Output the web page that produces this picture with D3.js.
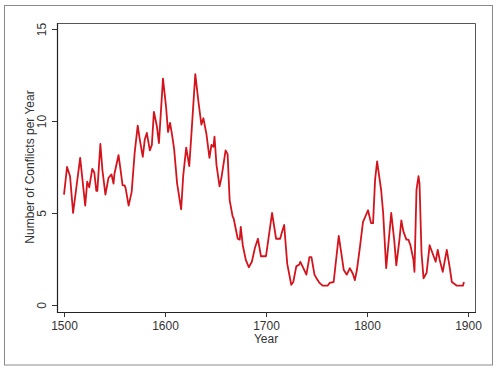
<!DOCTYPE html>
<html>
<head>
<meta charset="utf-8">
<script src="https://cdn.jsdelivr.net/npm/d3@7"></script>
<style>
  body { margin: 0; background: #fff; }
  svg text { font-family: "Liberation Sans", Arial, sans-serif; fill: #333; }
</style>
</head>
<body>
<div id="chart"></div>
<script>

// conflicts per year (smoothed)
var years = [1500,1503,1506,1509,1516,1521,1523,1525,1528,1530,1532,1533,1536,1538,1541,1544,1547,1549,1550,1554,
    1556,1558,1560,1561,1564,1567,1570,1573,1575,1578,1580,1582,1585,1587,1589,1592,1594,1598,1601,1603,
    1605,1607,1609,1612,1616,1618,1621,1624,1626,1630,1633,1636,1638,1641,1644,1646,1648,1649,1651,1654,
    1656,1660,1662,1664,1667,1668,1672,1674,1675,1677,1680,1683,1686,1689,1692,1695,1700,1706,1710,1714,
    1716,1718,1721,1725,1727,1730,1733,1734,1737,1740,1743,1745,1748,1750,1753,1756,1761,1763,1767,1772,
    1775,1777,1780,1783,1786,1788,1790,1793,1796,1801,1804,1806,1808,1810,1814,1816,1819,1824,1827,1829,
    1832,1834,1836,1839,1841,1843,1846,1847,1849,1851,1852,1854,1856,1859,1862,1865,1868,1870,1872,1875,
    1879,1882,1884,1889,1895,1896];
var conflicts = [6.0,7.5,7.0,5.0,8.0,5.4,6.7,6.4,7.4,7.2,6.2,6.2,8.75,7.35,6.0,6.9,7.1,6.6,7.15,8.15,
    7.35,6.5,6.5,6.35,5.4,6.15,8.3,9.75,9.0,8.05,9.0,9.35,8.4,8.7,10.5,9.7,8.8,12.3,10.8,9.4,
    9.9,9.25,8.5,6.6,5.2,7.0,8.55,7.55,9.15,12.55,11.1,9.8,10.15,9.3,8.0,8.7,8.6,9.15,7.6,6.45,
    6.95,8.4,8.2,5.7,4.8,4.7,3.6,3.55,4.25,3.25,2.45,2.05,2.35,3.1,3.6,2.65,2.65,5.0,3.6,3.6,
    4.0,4.35,2.25,1.1,1.25,2.1,2.2,2.35,2.0,1.65,2.6,2.6,1.65,1.45,1.2,1.05,1.05,1.2,1.25,3.75,
    2.65,1.9,1.65,2.0,1.7,1.35,1.9,3.15,4.5,5.15,4.45,4.45,6.8,7.8,6.25,5.0,2.0,5.0,3.5,2.15,
    3.5,4.6,4.0,3.55,3.55,3.25,2.45,1.8,6.25,7.0,6.6,2.8,1.45,1.75,3.25,2.8,2.35,3.0,2.45,1.8,
    3.0,2.0,1.25,1.05,1.05,1.25];

var xTicks = [1500, 1600, 1700, 1800, 1900];
var yTicks = [0, 5, 10, 15];

var width = 500, height = 370;
var plot = { left: 57, top: 23, right: 475, bottom: 312 };

var svg = d3.select("#chart").append("svg")
    .attr("width", width)
    .attr("height", height);

// outer frame
svg.append("rect")
    .attr("x", 4.5).attr("y", 5.5)
    .attr("width", 488).attr("height", 359.5)
    .attr("fill", "none").attr("stroke", "#8a8a8a");

var x = d3.scaleLinear().domain([1500, 1900]).range([64, 468]);
var y = d3.scaleLinear().domain([0, 15]).range([305, 29]);

// plot box (top + right)
svg.append("path")
    .attr("d", "M" + plot.left + "," + (plot.top + 0.5) + "H" + (plot.right + 0.5) + "V" + plot.bottom)
    .attr("fill", "none").attr("stroke", "#555");

var xAxis = svg.append("g")
    .attr("transform", "translate(0," + plot.bottom + ")")
    .call(d3.axisBottom(x).tickValues(xTicks).tickFormat(d3.format("d")).tickSize(5).tickSizeOuter(0).tickPadding(4));
xAxis.select(".domain").attr("d", "M" + plot.left + ",0.5H" + (plot.right + 1));

var yAxis = svg.append("g")
    .attr("transform", "translate(" + plot.left + ",0)")
    .call(d3.axisLeft(y).tickValues(yTicks).tickSize(5).tickSizeOuter(0).tickPadding(3));
yAxis.select(".domain").attr("d", "M0.5," + plot.top + "V" + (plot.bottom + 1));

svg.selectAll(".domain").attr("stroke", "#222").attr("stroke-width", 1.2);
svg.selectAll(".tick line").attr("stroke", "#333");
svg.selectAll(".tick text").attr("font-size", 12).style("fill", "#333");

// vertical y tick labels
yAxis.selectAll(".tick text")
    .attr("text-anchor", "middle")
    .attr("x", null).attr("dy", null)
    .attr("transform", "translate(-11,0) rotate(-90)")
    .attr("y", 0);

svg.append("text")
    .attr("x", (x(1500) + x(1900)) / 2).attr("y", 343)
    .attr("text-anchor", "middle").attr("font-size", 12)
    .text("Year");

svg.append("text")
    .attr("transform", "translate(34," + ((y(0) + y(15)) / 2) + ") rotate(-90)")
    .attr("text-anchor", "middle").attr("font-size", 12)
    .text("Number of Conflicts per Year");

var line = d3.line()
    .x(function(d, i) { return x(years[i]); })
    .y(function(d) { return y(d); });

svg.append("path")
    .datum(conflicts)
    .attr("d", line)
    .attr("fill", "none")
    .attr("stroke", "#d4141c")
    .attr("stroke-width", 1.8)
    .attr("stroke-linejoin", "round");

</script>
</body>
</html>
